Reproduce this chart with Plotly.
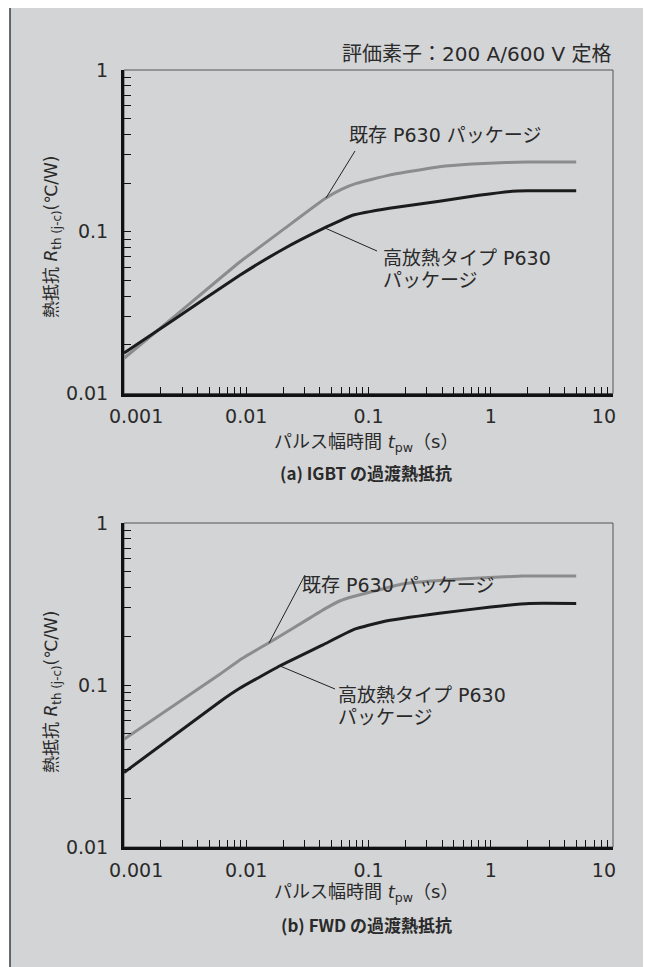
import plotly.graph_objects as go
from plotly.subplots import make_subplots

# ---- data ----
igbt_x_existing = [0.001, 0.0025, 0.00885, 0.02, 0.0445, 0.06, 0.0795, 0.148, 0.38, 0.7, 1.33, 2.0, 5.0]
igbt_y_existing = [0.0165, 0.0293, 0.065, 0.103, 0.161, 0.183, 0.199, 0.224, 0.252, 0.262, 0.268, 0.27, 0.27]
igbt_x_new = [0.001, 0.0025, 0.00885, 0.02, 0.0436, 0.06, 0.074, 0.148, 0.38, 0.8, 1.5, 2.0, 5.0]
igbt_y_new = [0.0178, 0.0283, 0.0538, 0.078, 0.1056, 0.118, 0.1265, 0.1398, 0.1545, 0.168, 0.178, 0.179, 0.179]

fwd_x_existing = [0.001, 0.00608, 0.00885, 0.01535, 0.031, 0.045, 0.058, 0.075, 0.1, 0.19, 0.52, 1.82, 5.0]
fwd_y_existing = [0.0462, 0.1164, 0.1427, 0.1825, 0.2515, 0.298, 0.33, 0.352, 0.372, 0.42, 0.449, 0.471, 0.471]
fwd_x_new = [0.001, 0.00608, 0.00885, 0.01875, 0.0424, 0.0769, 0.131, 0.38, 1.0, 2.06, 5.0]
fwd_y_new = [0.0288, 0.0789, 0.0954, 0.131, 0.177, 0.221, 0.246, 0.277, 0.303, 0.319, 0.319]

x_decades = [0.001, 0.01, 0.1, 1, 10]
x_decade_labels = ["\u00a0" * 4 + "0.001", "0.01", "0.1", "1", "10" + "\u00a0" * 3]
y_decades = [0.01, 0.1, 1]
y_decade_labels = ["0.01", "0.1", "1"]

label_existing = "既存 P630 パッケージ"
label_new_1 = "高放熱タイプ P630"
label_new_2 = "パッケージ"
header_text = "評価素子：200 A/600 V 定格"
y_title = "熱抵抗 <i>R</i><sub>th (j-c)</sub>(℃/W)"
x_title = "パルス幅時間 <i>t</i><sub>pw</sub>（s）"
caption_a = "(a) IGBT の過渡熱抵抗"
caption_b = "(b) FWD の過渡熱抵抗"

# page offset of the plot div (default body margin)
OFF = 8
W, H = 651 - OFF, 967 - OFF
FONT = "DejaVu Sans, Noto Sans CJK JP, sans-serif"
CAP_FONT = "Noto Sans CJK JP, sans-serif"
TXT = "#2a2a2a"
GRAY = "#8c8c8c"
BLACK = "#1c1c1c"


def px(x):
    return (x - OFF) / W


def py(y):
    return 1 - (y - OFF) / H


def minor_vals(decs):
    vals = []
    for d in decs[:-1]:
        for m in range(2, 10):
            vals.append(d * m)
    return vals


fig = make_subplots(rows=2, cols=1)

for (xs, ys, col, r) in ((igbt_x_existing, igbt_y_existing, GRAY, 1),
                         (igbt_x_new, igbt_y_new, BLACK, 1),
                         (fwd_x_existing, fwd_y_existing, GRAY, 2),
                         (fwd_x_new, fwd_y_new, BLACK, 2)):
    fig.add_trace(go.Scatter(x=xs, y=ys, mode="lines", hoverinfo="skip",
                             line=dict(color=col, width=3, shape="spline", smoothing=0.35)),
                  row=r, col=1)

x_dom = [px(124), px(613)]
dom_top = [py(393.5), py(70)]
dom_bot = [py(847), py(523)]

axis_common = dict(type="log", showgrid=False, zeroline=False, showline=True, linecolor="#111111",
                   linewidth=3, ticks="inside", ticklen=7, tickwidth=1.4, tickcolor="#111111",
                   tickfont=dict(family=FONT, size=19, color=TXT), mirror=False, automargin=False)

for r, dom in ((1, dom_top), (2, dom_bot)):
    xa = "xaxis" if r == 1 else "xaxis2"
    ya = "yaxis" if r == 1 else "yaxis2"
    fig.layout[xa].update(domain=x_dom, range=[-3, 1], tickmode="array", tickvals=x_decades,
                          ticktext=x_decade_labels, ticklabelstandoff=4,
                          minor=dict(tickmode="array", tickvals=minor_vals(x_decades), ticks="inside",
                                     ticklen=7, tickwidth=1.4, tickcolor="#111111", showgrid=False),
                          **axis_common)
    fig.layout[ya].update(domain=dom, range=[-2, 0], tickmode="array", tickvals=y_decades,
                          ticktext=y_decade_labels, ticklabelstandoff=9,
                          minor=dict(tickmode="array", tickvals=minor_vals(y_decades), ticks="inside",
                                     ticklen=7, tickwidth=1.4, tickcolor="#111111", showgrid=False),
                          **axis_common)

shapes = [
    # outer gray panel
    dict(type="rect", xref="paper", yref="paper", x0=px(10), x1=px(644), y0=-0.05, y1=py(6),
         fillcolor="#d3d4d6", line=dict(color="#3c3c3c", width=1.5), layer="below"),
    # thin plot frames
    dict(type="rect", xref="x domain", yref="y domain", x0=0, x1=1, y0=0, y1=1,
         line=dict(color="#555555", width=1), layer="below"),
    dict(type="rect", xref="x2 domain", yref="y2 domain", x0=0, x1=1, y0=0, y1=1,
         line=dict(color="#555555", width=1), layer="below"),
    # leader lines (top)
    dict(type="line", xref="paper", yref="paper", x0=px(355), y0=py(151), x1=px(326), y1=py(198),
         line=dict(color="#222222", width=1)),
    dict(type="line", xref="paper", yref="paper", x0=px(325), y0=py(228), x1=px(377), y1=py(251),
         line=dict(color="#222222", width=1)),
    # leader lines (bottom)
    dict(type="line", xref="paper", yref="paper", x0=px(305), y0=py(575), x1=px(269), y1=py(643),
         line=dict(color="#222222", width=1)),
    dict(type="line", xref="paper", yref="paper", x0=px(280), y0=py(666), x1=px(335), y1=py(689),
         line=dict(color="#222222", width=1)),
]


def ann(text, x, y, size=17, xanchor="left", angle=0, family=FONT, weight="normal"):
    return dict(text=text, x=px(x), y=py(y), xref="paper", yref="paper", showarrow=False,
                xanchor=xanchor, yanchor="middle", textangle=angle, borderpad=0,
                font=dict(family=family, size=size, color=TXT, weight=weight))


annotations = [
    ann(header_text, 613, 54, 20, "right"),
    ann(label_existing, 348, 135, 19),
    ann(label_new_1, 382, 258, 19),
    ann(label_new_2, 382, 280, 19),
    ann(label_existing, 301, 585, 19),
    ann(label_new_1, 337, 695, 19),
    ann(label_new_2, 337, 717, 19),
    ann(y_title, 52, 237, 17, "center", -90),
    ann(y_title, 52, 692, 17, "center", -90),
    ann(x_title, 366, 443, 18, "center"),
    ann(x_title, 366, 893, 18, "center"),
    ann(caption_a, 366, 473, 17, "center", family=CAP_FONT, weight="bold"),
    ann(caption_b, 366, 924, 17, "center", family=CAP_FONT, weight="bold"),
]

fig.update_layout(width=W, height=H, margin=dict(l=0, r=0, t=0, b=0, autoexpand=False),
                  showlegend=False, paper_bgcolor="white", plot_bgcolor="white",
                  shapes=shapes, annotations=annotations)

fig.write_html("out.html")
